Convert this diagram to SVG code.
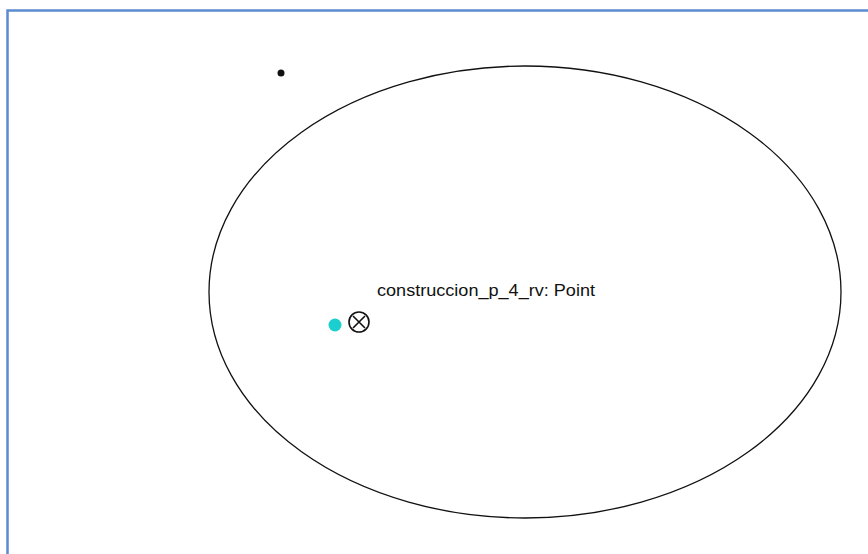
<svg xmlns="http://www.w3.org/2000/svg" width="868" height="554" viewBox="0 0 868 554">
<style>
.lbl{font-family:"Liberation Sans",Arial,sans-serif;font-size:17px;fill:#111}
</style>
<rect width="868" height="554" fill="#fff"/>
<path d="M7.5,554 V10.5 H868" fill="none" stroke="#5b8bd0" stroke-width="2.5"/>
<g id="ellipse"><ellipse cx="525" cy="292" rx="316" ry="226" fill="none" stroke="#111" stroke-width="1.3"/></g>
<g id="dot"><circle cx="281" cy="73" r="3.5" fill="#111"/></g>
<g id="point">
<circle cx="335" cy="325" r="6.5" fill="#1ccfcf"/>
<circle cx="359" cy="322" r="10" fill="#fff" stroke="#111" stroke-width="1.6"/>
<path d="M353,316 L365,328 M365,316 L353,328" stroke="#111" stroke-width="1.6"/>
<text class="lbl" x="377" y="296" textLength="218" lengthAdjust="spacingAndGlyphs">construccion_p_4_rv: Point</text>
</g>
</svg>
